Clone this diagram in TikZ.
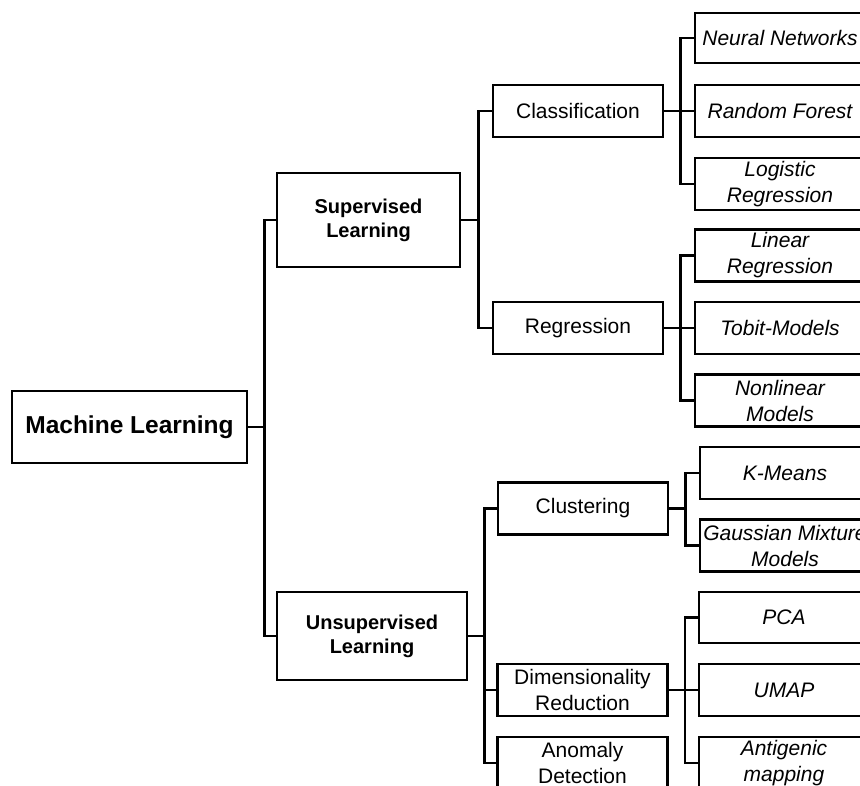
\documentclass[tikz,border=0pt]{standalone}
\usepackage{fontspec}
\setmainfont{Liberation Sans}

\begin{document}
\begin{tikzpicture}[x=1pt,y=-1pt,line width=2.6pt,
    box/.style={draw,line width=2.6pt,align=center,inner sep=0pt,minimum width=170pt,minimum height=52pt,font=\fontsize{21}{26}\selectfont},
    leaf/.style={box,font=\fontsize{21}{26}\selectfont\itshape},
    group/.style={box,minimum height=92pt,font=\fontsize{20}{24}\selectfont\bfseries},
    link/.style={line width=2.6pt}]
    \useasboundingbox (0,0) rectangle (860,785);
    \clip (0,0) rectangle (860,785);

    % root
    \node[box,minimum width=235pt,minimum height=72pt,font=\fontsize{24.5}{28}\selectfont\bfseries] (ml) at (129.5,427) {Machine Learning};

    % groups
    \node[group,minimum width=183pt,minimum height=94pt] (sup) at (368.5,220) {Supervised\\Learning};
    \node[group,minimum width=190pt,minimum height=88pt] (unsup) at (372,636) {Unsupervised\\Learning};

    % tasks
    \node[box] (cls) at (578,111) {Classification};
    \node[box] (reg) at (578,328) {Regression};
    \node[box] (clu) at (583,508.5) {Clustering};
    \node[box] (dim) at (582.5,690) {Dimensionality\\Reduction};
    \node[box] (ano) at (582.5,763) {Anomaly\\Detection};

    % methods
    \node[leaf,minimum height=50pt] (nn) at (780,38) {Neural Networks};
    \node[leaf] (rf) at (780,111) {Random Forest};
    \node[leaf] (logr) at (780,184) {Logistic\\Regression};
    \node[leaf] (linr) at (780,255.5) {Linear\\Regression};
    \node[leaf] (tob) at (780,328) {Tobit-Models};
    \node[leaf] (nlm) at (780,400.5) {Nonlinear\\Models};
    \node[leaf] (km) at (785,473) {K-Means};
    \node[leaf] (gmm) at (785,545.5) {Gaussian Mixture\\Models};
    \node[leaf,minimum height=51pt] (pca) at (784,617.5) {PCA};
    \node[leaf] (umap) at (784,690) {UMAP};
    \node[leaf] (ant) at (784,763) {Antigenic\\mapping};

    \draw[link] (ml.east) -- ++(16,0) |- (sup.west);
    \draw[link] (ml.east) -- ++(16,0) |- (unsup.west);

    \draw[link] (sup.east) -- ++(17,0) |- (cls.west);
    \draw[link] (sup.east) -- ++(17,0) |- (reg.west);
    \draw[link] (unsup.east) -- ++(16,0) |- (clu.west);
    \draw[link] (unsup.east) -- ++(16,0) |- (dim.west);
    \draw[link] (unsup.east) -- ++(16,0) |- (ano.west);

    \draw[link] (cls.east) -- ++(16,0) |- (nn.west);
    \draw[link] (cls.east) -- ++(16,0) |- (rf.west);
    \draw[link] (cls.east) -- ++(16,0) |- (logr.west);
    \draw[link] (reg.east) -- ++(16,0) |- (linr.west);
    \draw[link] (reg.east) -- ++(16,0) |- (tob.west);
    \draw[link] (reg.east) -- ++(16,0) |- (nlm.west);
    \draw[link] (clu.east) -- ++(16,0) |- (km.west);
    \draw[link] (clu.east) -- ++(16,0) |- (gmm.west);
    \draw[link] (dim.east) -- ++(16,0) |- (pca.west);
    \draw[link] (dim.east) -- ++(16,0) |- (umap.west);
    \draw[link] (dim.east) -- ++(16,0) |- (ant.west);
\end{tikzpicture}
\end{document}
